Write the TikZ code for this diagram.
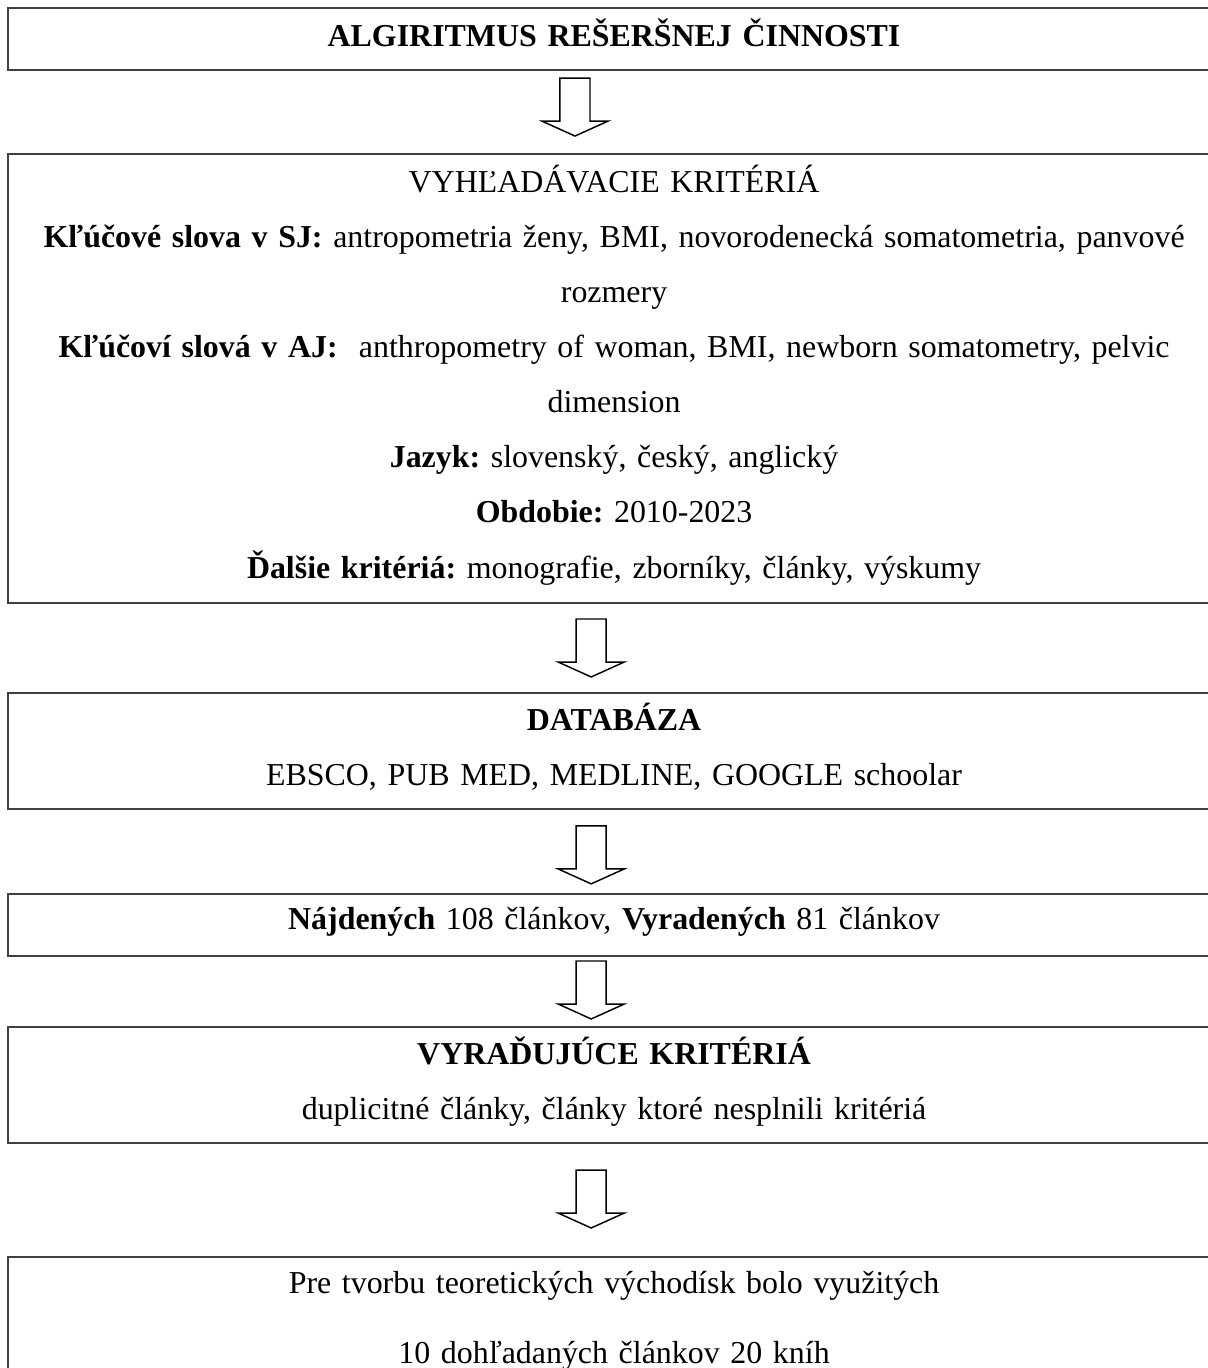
\documentclass[tikz,border=0pt]{standalone}
\usepackage{fontspec}
\setmainfont{Liberation Serif}
\usetikzlibrary{positioning}

\begin{document}
\begin{tikzpicture}[
node distance = 31.6pt,
   box/.style = {draw=black!75, line width=0.75pt,
                 minimum width=455.7pt, text width=440pt, align=center,
                 inner sep=0pt, outer sep=0pt,
                 font=\fontsize{12}{20.7}\selectfont\frenchspacing,
                 execute at end node={\rule[-5.2pt]{0pt}{0pt}}},
  darrow/.pic = {\draw[line width=0.55pt, line join=miter]
                   (-5.65pt,0) -- (-5.65pt,-16.2pt) -- (-12.4pt,-16.2pt)
                   -- (0,-21.8pt) -- (12.4pt,-16.2pt) -- (5.65pt,-16.2pt)
                   -- (5.65pt,0) -- cycle;},
         ]
\useasboundingbox (0,0) rectangle (454.2pt,-514.4pt);
\node (n1)  [box, minimum height=23.3pt] at (230.9pt,-14.7pt)
      {\textbf{ALGIRITMUS REŠERŠNEJ ČINNOSTI}};
\node (n2)  [box, minimum height=168.8pt, below=of n1]
      {VYHĽADÁVACIE KRITÉRIÁ \\
       \textbf{Kľúčové slova v SJ:} antropometria ženy, BMI, novorodenecká somatometria, panvové \\
       rozmery \\
       \textbf{Kľúčoví slová v AJ:}\ \ anthropometry of woman, BMI, newborn somatometry, pelvic \\
       dimension \\
       \textbf{Jazyk:} slovenský, český, anglický \\
       \textbf{Obdobie:} 2010-2023 \\
       \textbf{Ďalšie kritériá:} monografie, zborníky, články, výskumy};
\node (n3)  [box, minimum height=43.6pt, below=33.8pt of n2]
      {\textbf{DATABÁZA} \\ EBSCO, PUB MED, MEDLINE, GOOGLE schoolar};
\node (n4)  [box, minimum height=23.3pt, below=32pt of n3]
      {\textbf{Nájdených} 108 článkov, \textbf{Vyradených} 81 článkov};
\node (n5)  [box, minimum height=43.6pt, below=26.7pt of n4]
      {\textbf{VYRAĎUJÚCE KRITÉRIÁ} \\ duplicitné články, články ktoré nesplnili kritériá};
\node (n6)  [box, minimum height=50.8pt, below=42.9pt of n5]
      {Pre tvorbu teoretických východísk bolo využitých \\[5.6pt]
       10 dohľadaných článkov 20 kníh};

%
\pic at ([xshift=-14.7pt, yshift=-3pt]n1.south) {darrow};
\pic at ([xshift=-8.6pt, yshift=-6pt]n2.south) {darrow};
\pic at ([xshift=-8.6pt, yshift=-6.4pt]n3.south) {darrow};
\pic at ([xshift=-8.6pt, yshift=-1.9pt]n4.south) {darrow};
\pic at ([xshift=-8.6pt, yshift=-10.2pt]n5.south) {darrow};
    \end{tikzpicture}
\end{document}
